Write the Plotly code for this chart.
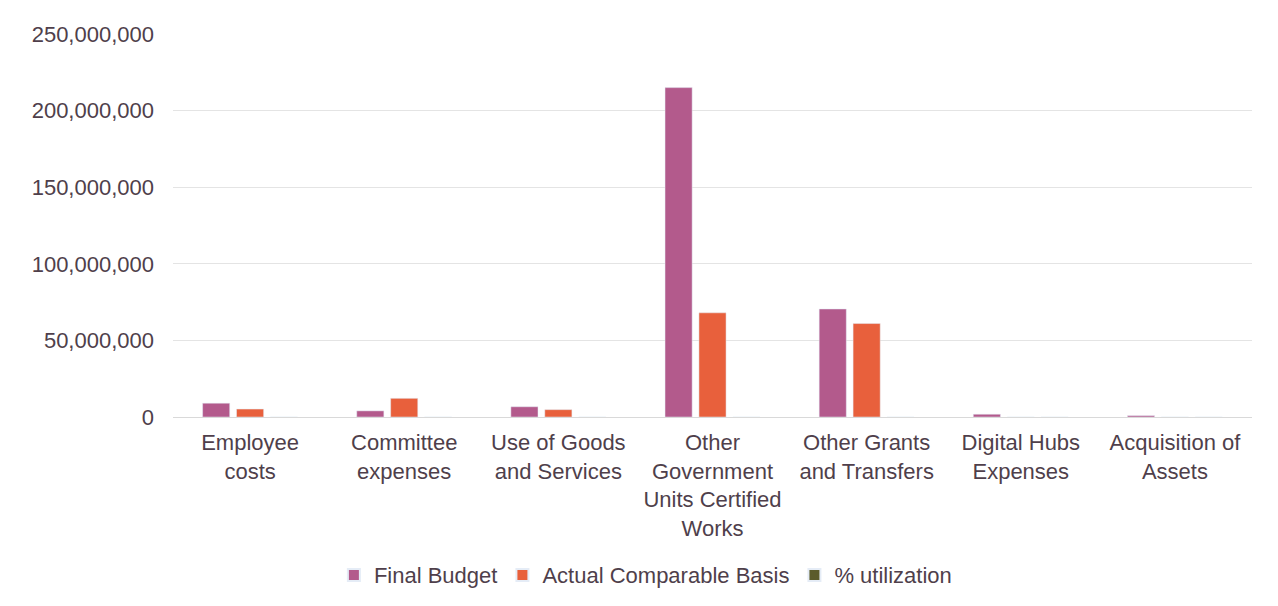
import plotly.graph_objects as go

categories = [
    "Employee<br>costs",
    "Committee<br>expenses",
    "Use of Goods<br>and Services",
    "Other<br>Government<br>Units Certified<br>Works",
    "Other Grants<br>and Transfers",
    "Digital Hubs<br>Expenses",
    "Acquisition of<br>Assets",
]
final_budget = [9000000, 4000000, 6700000, 215000000, 70500000, 1800000, 900000]
actual_comparable = [5200000, 12200000, 4800000, 68000000, 61000000, 0, 0]
pct_utilization = [58, 305, 72, 32, 87, 0, 0]

y_ticks = [0, 50000000, 100000000, 150000000, 200000000, 250000000]

font_family = "Liberation Sans, Arial, sans-serif"
text_color = "#4f3f4b"
fs = 22

fig = go.Figure()
fig.add_trace(go.Bar(name="Final Budget", x=categories, y=final_budget, marker_color="#b35a8c"))
fig.add_trace(go.Bar(name="Actual Comparable Basis", x=categories, y=actual_comparable, marker_color="#e8603c"))
fig.add_trace(go.Bar(name="% utilization", x=categories, y=pct_utilization, marker_color="#5c5c2c"))

fig.update_layout(
    width=1278, height=606,
    margin=dict(l=173, r=26, t=34, b=189),
    paper_bgcolor="white", plot_bgcolor="white",
    barmode="group", bargap=0.34, bargroupgap=0.2,
    font=dict(family=font_family, size=fs, color=text_color),
    showlegend=True,
    legend=dict(orientation="h", xref="container", x=0.505, xanchor="center",
                yref="container", y=0.051, yanchor="middle",
                font=dict(size=fs, color=text_color), itemsizing="constant",
                tracegroupgap=0),
)
fig.update_xaxes(showline=False, ticks="", tickfont=dict(size=fs, color=text_color),
                 showgrid=False, ticklabelstandoff=10)
fig.update_yaxes(range=[0, 250000000], tickvals=y_ticks, tickformat=",d",
                 showgrid=True, gridcolor="#e4e4e4", gridwidth=1,
                 zeroline=True, zerolinecolor="#d9d9d9", zerolinewidth=1,
                 ticklabelstandoff=18, tickfont=dict(size=fs, color=text_color))

fig.write_html("out.html")
